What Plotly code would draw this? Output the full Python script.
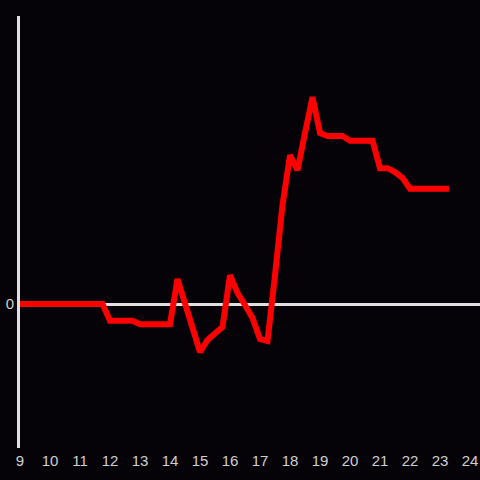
import plotly.graph_objects as go

hours = [9.0, 11.75, 12.0, 12.75, 13.0, 14.0, 14.25, 14.5, 14.75, 15.0,
         15.25, 15.5, 15.75, 16.0, 16.25, 16.5, 16.75, 17.0, 17.25, 17.5,
         17.75, 18.0, 18.25, 18.5, 18.75, 19.0, 19.25, 19.5, 19.75, 20.0,
         20.75, 21.0, 21.25, 21.5, 21.75, 22.0, 23.3]
values = [0.0, 0.0, -0.35, -0.35, -0.42, -0.42, 0.52, 0.0, -0.54, -1.0,
          -0.75, -0.6, -0.48, 0.6, 0.23, -0.02, -0.29, -0.73, -0.77, 0.6,
          2.06, 3.1, 2.79, 3.56, 4.31, 3.56, 3.5, 3.5, 3.5, 3.4,
          3.4, 2.83, 2.83, 2.75, 2.63, 2.4, 2.4]
x_ticks = list(range(9, 25))

fig = go.Figure(go.Scatter(x=hours, y=values, mode="lines",
                           line=dict(color="#ff0000", width=6),
                           hoverinfo="skip"))

fig.update_layout(
    width=480, height=480,
    paper_bgcolor="#050308", plot_bgcolor="#050308",
    margin=dict(l=20, r=0, t=16, b=32),
    showlegend=False,
    font=dict(family="Liberation Sans, Arial, sans-serif", size=15, color="#d0d0d0"),
)
fig.update_xaxes(range=[9, 24.333], tickvals=x_ticks, ticktext=[str(t) for t in x_ticks],
                 showgrid=False, zeroline=False, showline=False, ticks="",
                 ticklabelstandoff=2)
fig.update_yaxes(range=[-3, 6], tickvals=[0], ticktext=["0"], showgrid=False,
                 zeroline=True, zerolinecolor="#e0e0e0", zerolinewidth=3,
                 showline=True, linecolor="#e0e0e0", linewidth=3, ticks="")

fig.write_html("out.html", config={"displayModeBar": False},
               post_script="document.body.style.margin='0';document.body.style.background='#050308';")
